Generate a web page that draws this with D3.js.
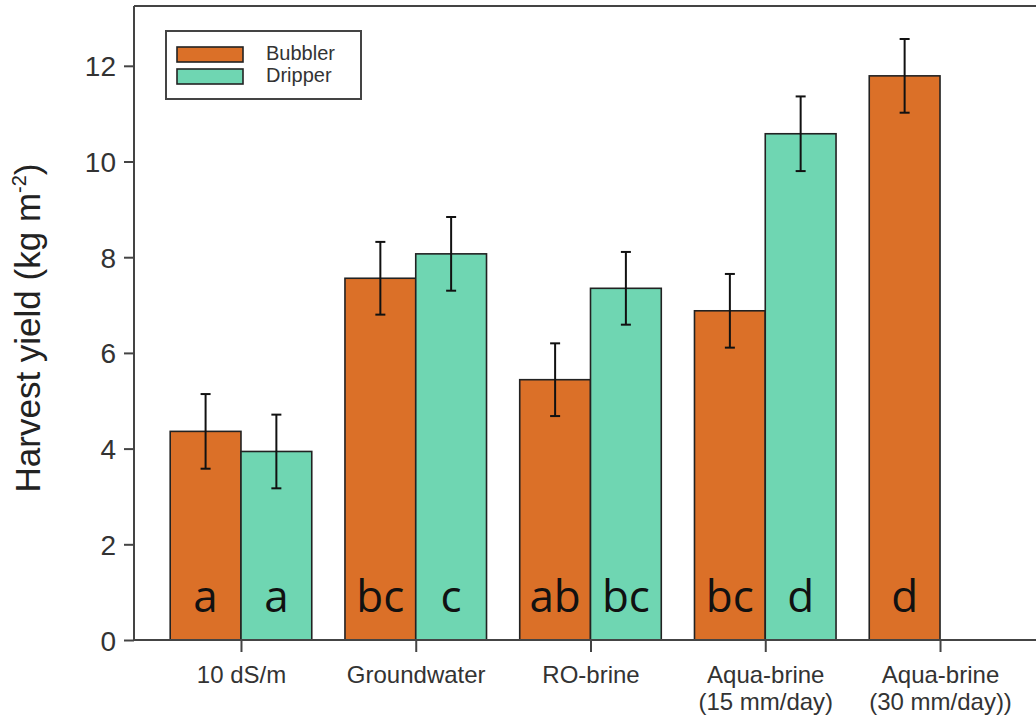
<!DOCTYPE html>
<html>
<head>
<meta charset="utf-8">
<script src="https://cdn.jsdelivr.net/npm/d3@7"></script>
<style>
  html, body { margin: 0; padding: 0; background: #fff; }
  svg { display: block; }
</style>
</head>
<body>
<svg id="chart" width="1036" height="720"></svg>
<script>
// Harvest yield per irrigation water source, bubbler vs dripper
const categories = ["10 dS/m", "Groundwater", "RO-brine", "Aqua-brine\n(15 mm/day)", "Aqua-brine\n(30 mm/day))"];
const seriesNames = ["Bubbler", "Dripper"];
const bubblerYield = [4.36, 7.56, 5.44, 6.88, 11.79];
const dripperYield = [3.94, 8.07, 7.35, 10.58, null];
const bubblerErr = [0.78, 0.76, 0.76, 0.77, 0.77];
const dripperErr = [0.77, 0.77, 0.76, 0.78, null];
const bubblerLetters = ["a", "bc", "ab", "bc", "d"];
const dripperLetters = ["a", "c", "bc", "d", null];
const yTicks = [0, 2, 4, 6, 8, 10, 12];

const colors = { Bubbler: "#db7028", Dripper: "#6fd6b2" };

const rows = [];
categories.forEach((c, i) => {
  rows.push({ cat: c, series: "Bubbler", value: bubblerYield[i], err: bubblerErr[i], letter: bubblerLetters[i] });
  rows.push({ cat: c, series: "Dripper", value: dripperYield[i], err: dripperErr[i], letter: dripperLetters[i] });
});
const bars = rows.filter(d => d.value != null);

const svg = d3.select("#chart");
const plotLeft = 134, plotTop = 6, plotBottom = 640, plotRight = 1040;

const x0 = d3.scaleBand().domain(categories).range([153.6, 1027.4]).paddingInner(0.19).paddingOuter(0.095);
const x1 = d3.scaleBand().domain(seriesNames).range([0, x0.bandwidth()]);
const y = d3.scaleLinear().domain([0, 13.25]).range([plotBottom, plotTop]);

const axisColor = "#444";
const textColor = "#333";

// bars
svg.append("g").selectAll("rect").data(bars).join("rect")
  .attr("x", d => x0(d.cat) + x1(d.series))
  .attr("y", d => y(d.value))
  .attr("width", x1.bandwidth())
  .attr("height", d => y(0) - y(d.value))
  .attr("fill", d => colors[d.series])
  .attr("stroke", "#222")
  .attr("stroke-width", 1.6);

// error bars
const eb = svg.append("g").attr("stroke", "#111").attr("stroke-width", 2);
bars.forEach(d => {
  const cx = x0(d.cat) + x1(d.series) + x1.bandwidth() / 2;
  eb.append("line").attr("x1", cx).attr("x2", cx).attr("y1", y(d.value + d.err)).attr("y2", y(d.value - d.err));
  [d.value + d.err, d.value - d.err].forEach(v => {
    eb.append("line").attr("x1", cx - 5).attr("x2", cx + 5).attr("y1", y(v)).attr("y2", y(v));
  });
});

// significance letters
svg.append("g").selectAll("text").data(bars.filter(d => d.letter)).join("text")
  .attr("x", d => x0(d.cat) + x1(d.series) + x1.bandwidth() / 2)
  .attr("y", 612)
  .attr("text-anchor", "middle")
  .attr("font-family", "'Open Sans', sans-serif")
  .attr("font-size", 44)
  .attr("font-weight", 500)
  .attr("fill", "#111")
  .text(d => d.letter);

// frame
svg.append("line").attr("x1", plotLeft).attr("x2", plotRight).attr("y1", plotTop).attr("y2", plotTop)
  .attr("stroke", axisColor).attr("stroke-width", 2);

// y axis
const yAxis = svg.append("g").attr("transform", `translate(${plotLeft},0)`)
  .call(d3.axisLeft(y).tickValues(yTicks).tickSize(10).tickPadding(8).tickFormat(d3.format("d")));
yAxis.select(".domain").attr("stroke", axisColor).attr("stroke-width", 2).attr("d", `M0,${plotTop}V${plotBottom}`);
yAxis.selectAll(".tick line").attr("stroke", axisColor).attr("stroke-width", 2);
yAxis.selectAll(".tick text")
  .attr("font-family", "'Liberation Sans', Arial, sans-serif")
  .attr("font-size", 28).attr("fill", textColor).attr("dy", "0.36em");

// x axis
const xCenters = d3.scalePoint().domain(categories).range([x0(categories[0]) + x0.bandwidth() / 2, x0(categories[4]) + x0.bandwidth() / 2]);
const xAxis = svg.append("g").attr("transform", `translate(0,${plotBottom})`)
  .call(d3.axisBottom(xCenters).tickSize(12).tickFormat(""));
xAxis.select(".domain").attr("stroke", axisColor).attr("stroke-width", 2).attr("d", `M${plotLeft},0H${plotRight}`);
xAxis.selectAll(".tick line").attr("stroke", axisColor).attr("stroke-width", 2);
xAxis.selectAll(".tick").each(function(c) {
  const lines = c.split("\n");
  const t = d3.select(this).append("text")
    .attr("text-anchor", "middle")
    .attr("font-family", "'Liberation Sans', Arial, sans-serif")
    .attr("font-size", 24)
    .attr("fill", textColor);
  lines.forEach((l, i) => t.append("tspan").attr("x", 0).attr("y", 43 + i * 27).text(l));
});

// y axis title
const title = svg.append("text")
  .attr("transform", "translate(40,328) rotate(-90)")
  .attr("text-anchor", "middle")
  .attr("font-family", "'Liberation Sans', Arial, sans-serif")
  .attr("font-size", 35)
  .attr("fill", "#222");
title.append("tspan").text("Harvest yield (kg m");
title.append("tspan").attr("font-size", 20).attr("dy", -14).text("-2");
title.append("tspan").attr("dy", 14).text(")");

// legend
const lg = svg.append("g");
lg.append("rect").attr("x", 166).attr("y", 31).attr("width", 195).attr("height", 68)
  .attr("fill", "#fff").attr("stroke", axisColor).attr("stroke-width", 2);
seriesNames.forEach((s, i) => {
  lg.append("rect").attr("x", 177).attr("y", 47 + i * 22).attr("width", 66).attr("height", 15)
    .attr("fill", colors[s]).attr("stroke", "#222").attr("stroke-width", 1.6);
  lg.append("text").attr("x", 266).attr("y", 60 + i * 22)
    .attr("font-family", "'Liberation Sans', Arial, sans-serif")
    .attr("font-size", 20).attr("fill", textColor).text(s);
});
</script>
</body>
</html>
